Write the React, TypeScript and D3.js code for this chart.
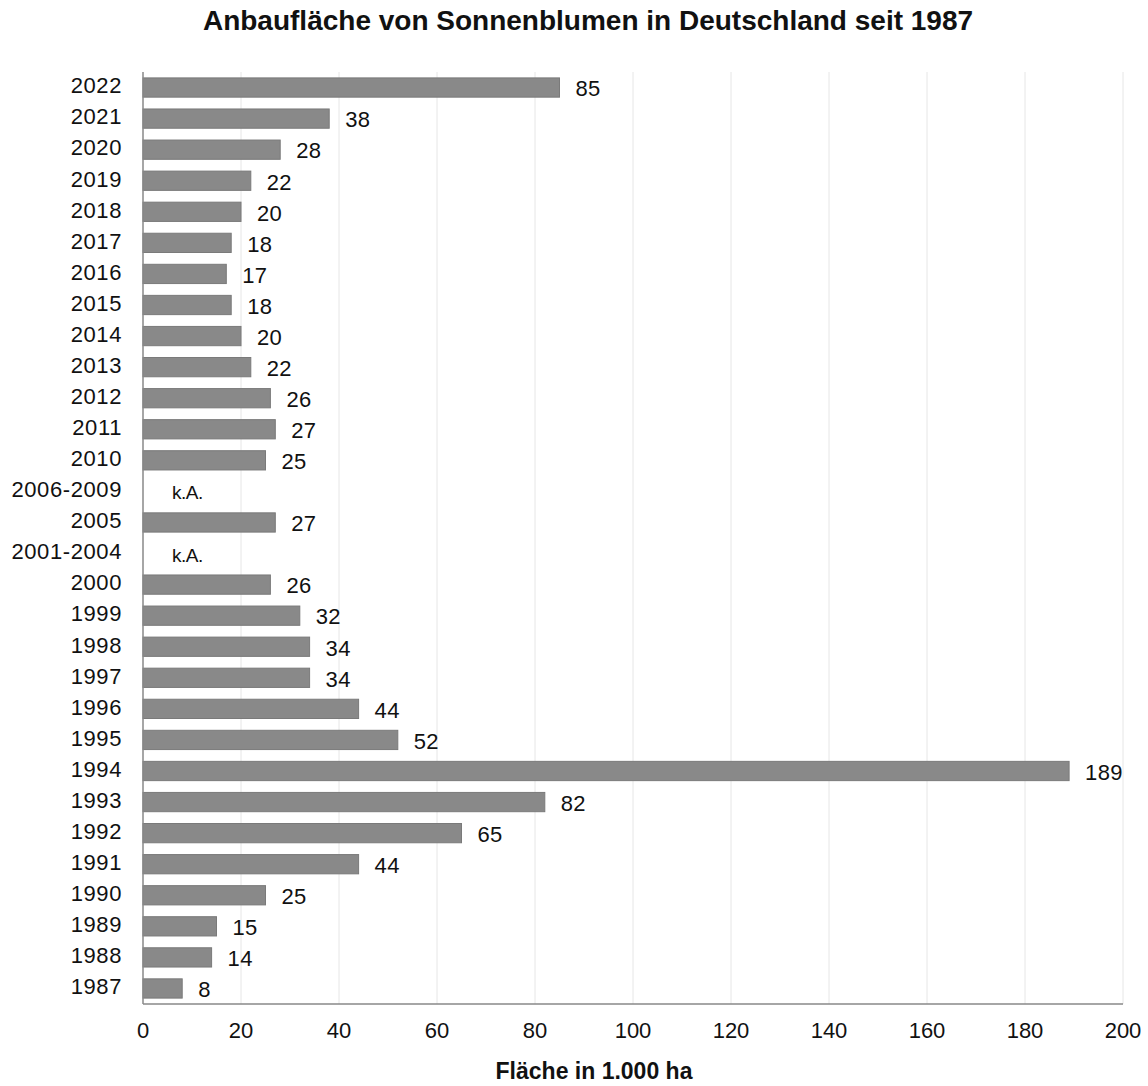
import { useEffect, useRef } from "react";
import { select, scaleLinear, scaleBand, range } from "d3";

const years = [
  "2022", "2021", "2020", "2019", "2018", "2017", "2016", "2015", "2014", "2013",
  "2012", "2011", "2010", "2006-2009", "2005", "2001-2004", "2000", "1999", "1998", "1997",
  "1996", "1995", "1994", "1993", "1992", "1991", "1990", "1989", "1988", "1987",
];
const area = [
  85, 38, 28, 22, 20, 18, 17, 18, 20, 22,
  26, 27, 25, null, 27, null, 26, 32, 34, 34,
  44, 52, 189, 82, 65, 44, 25, 15, 14, 8,
];
const xTicks = [0, 20, 40, 60, 80, 100, 120, 140, 160, 180, 200];
const title = "Anbaufläche von Sonnenblumen in Deutschland seit 1987";
const xTitle = "Fläche in 1.000 ha";
const noData = "k.A.";

const FONT = "Arial, 'Liberation Sans', sans-serif";

const drawChart = (
  ref: SVGSVGElement,
  size = { w: 1148, h: 1086, m: { t: 72, r: 25, b: 82, l: 143 } }
) => {
  const svg = select(ref);
  svg.selectAll("*").remove();

  const x = scaleLinear().domain([0, 200]).range([size.m.l, size.w - size.m.r]);
  const y = scaleBand<string>()
    .domain(years)
    .range([size.m.t, size.h - size.m.b])
    .paddingInner(0.38)
    .paddingOuter(0.19);

  const g = svg.append("g").style("font-family", FONT);

  // gridlines
  g.append("g")
    .selectAll("line")
    .data(xTicks.filter((d) => d > 0))
    .join("line")
    .attr("x1", (d) => x(d))
    .attr("x2", (d) => x(d))
    .attr("y1", size.m.t)
    .attr("y2", size.h - size.m.b)
    .attr("stroke", "#e6e6e6")
    .attr("stroke-width", 1);

  // bars
  const rows = range(years.length).map((i) => ({ year: years[i], v: area[i] }));
  g.append("g")
    .selectAll("rect")
    .data(rows.filter((d) => d.v !== null))
    .join("rect")
    .attr("x", x(0))
    .attr("y", (d) => y(d.year)!)
    .attr("width", (d) => x(d.v as number) - x(0))
    .attr("height", y.bandwidth())
    .attr("fill", "#898989")
    .attr("stroke", "#7a7a7a")
    .attr("stroke-width", 1);

  // value labels
  g.append("g")
    .selectAll("text")
    .data(rows)
    .join("text")
    .attr("x", (d) => (d.v === null ? x(0) + 29 : x(d.v) + 16))
    .attr("y", (d) => y(d.year)! + y.bandwidth() / 2 + 3)
    .attr("dominant-baseline", "middle")
    .attr("font-size", (d) => (d.v === null ? 19 : 22))
    .attr("letter-spacing", (d) => (d.v === null ? -0.5 : 0.3))
    .attr("fill", "#111")
    .text((d) => (d.v === null ? noData : d.v));

  // axes lines
  g.append("line")
    .attr("x1", x(0))
    .attr("x2", x(0))
    .attr("y1", size.m.t)
    .attr("y2", size.h - size.m.b)
    .attr("stroke", "#888")
    .attr("stroke-width", 1.5);
  g.append("line")
    .attr("x1", x(0))
    .attr("x2", x(200))
    .attr("y1", size.h - size.m.b)
    .attr("y2", size.h - size.m.b)
    .attr("stroke", "#888")
    .attr("stroke-width", 1.5);

  // year labels
  g.append("g")
    .selectAll("text")
    .data(years)
    .join("text")
    .attr("x", size.m.l - 21)
    .attr("y", (d) => y(d)! + y.bandwidth() / 2)
    .attr("dominant-baseline", "middle")
    .attr("text-anchor", "end")
    .attr("font-size", 22)
    .attr("letter-spacing", 0.6)
    .attr("fill", "#111")
    .text((d) => d);

  // x tick labels
  g.append("g")
    .selectAll("text")
    .data(xTicks)
    .join("text")
    .attr("x", (d) => x(d))
    .attr("y", size.h - size.m.b + 28)
    .attr("dominant-baseline", "middle")
    .attr("text-anchor", "middle")
    .attr("font-size", 22)
    .attr("fill", "#111")
    .text((d) => d);

  // axis title
  g.append("text")
    .attr("x", 594)
    .attr("y", size.h - 13)
    .attr("dominant-baseline", "middle")
    .attr("text-anchor", "middle")
    .attr("font-size", 23)
    .attr("font-weight", 700)
    .attr("fill", "#111")
    .text(xTitle);

  // title
  g.append("text")
    .attr("x", 588)
    .attr("y", 23)
    .attr("dominant-baseline", "middle")
    .attr("text-anchor", "middle")
    .attr("font-size", 28)
    .attr("font-weight", 700)
    .attr("fill", "#111")
    .text(title);
};

export default function App() {
  const ref = useRef<SVGSVGElement>(null);

  useEffect(() => {
    if (ref.current) drawChart(ref.current);
  }, []);

  return (
    <svg
      ref={ref}
      width={1148}
      height={1086}
      style={{ position: "absolute", left: 0, top: 0, background: "#fff" }}
    />
  );
}
